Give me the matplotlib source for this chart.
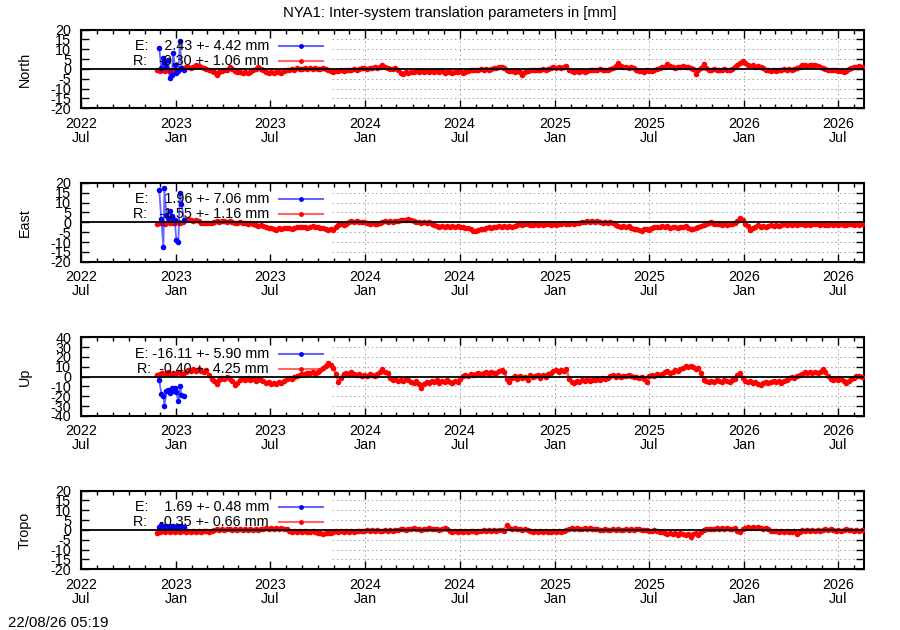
import matplotlib
matplotlib.use('Agg')
import matplotlib.pyplot as plt
import matplotlib.dates as mdates
import pandas as pd

plt.rcParams['font.family'] = ['Liberation Sans', 'DejaVu Sans']
plt.rcParams['font.size'] = 10.4

# ---------------- data ----------------
title = "NYA1: Inter-system translation parameters in [mm]"
stamp = "22/08/26 05:19"
x_start = "2022-07-01"
x_end = "2026-08-21"

# R series: one value every 5 days from red_start
red_start = "2022-11-25"
red_step = "5D"

north_r = [
    -0.5, -1.0, -0.8, -1.2, -0.6, -0.9, -1.1, -0.4, -0.7, 0.0,
    0.5, 0.8, 1.0, 0.6, 1.2, 2.0, 1.4, 0.8, 0.5, 0.2,
    -0.8, -1.2, -1.5, -3.0, -1.8, -1.0, -0.6, -0.3, 1.0, 0.2,
    -1.2, -1.8, -1.5, -2.2, -1.7, -1.9, -1.4, -0.5, 0.0, 1.0,
    0.2, -0.8, -1.8, -2.0, -1.6, -2.3, -1.8, -1.5, -2.0, -1.2,
    -0.8, -0.5, -0.2, -0.6, 0.3, -0.1, 0.2, 0.5, 0.0, 0.3,
    0.1, 0.4, -0.2, 0.2, 0.5, 0.0, -0.3, -1.0, -1.4, -0.9,
    -1.2, -0.8, -1.1, -0.6, -0.4, -0.7, -0.2, -0.5, 0.0, 0.3,
    0.5, 0.2, 0.6, 0.3, 0.8, 0.4, 1.2, 2.0, 1.0, 0.5,
    0.2, -0.2, 0.3, -0.6, -2.0, -2.4, -1.8, -2.2, -1.5, -1.8,
    -1.3, -1.6, -1.0, -1.5, -1.2, -1.8, -0.9, -1.4, -1.1, -1.6, -1.3, -1.9, -1.5,
    -1.7, -2.0, -1.5, -1.8, -1.2, -1.9, -1.6, -1.0,
    -0.5, -0.8, -0.3, -0.6, -0.2, -0.5, 0.0, -0.4, -0.1, 0.3, 0.5,
    1.0, 1.2, 0.6,
    -0.8, -1.2, -0.9, -1.4, -1.0, -1.6, -3.0, -1.5, -1.0,
    -0.6, -0.4, -0.8, -0.3, -0.6, -0.2, -0.5, 0.0,
    0.5, 0.8, 0.4, 1.0, 0.6, 1.2, 1.7,
    -0.8, -1.3, -1.6, -1.2, -1.8, -1.1, -1.5, -0.9,
    -0.5, -0.8, -0.3, -0.6, -0.2, -0.5, -0.7, -0.3, -0.1, 0.4,
    1.5, 2.8, 1.6,
    1.0, 1.2, 0.7, 1.0, 0.4,
    -0.8, -1.2, -0.9, -1.4, -0.8, -1.0, -1.3, -0.6, -0.2, 0.3,
    0.8, 1.2, 2.5, 1.4, 1.0, 0.7, 1.2, 0.9, 1.3, 0.8, 1.0, 0.5, 0.2, -2.5, -0.5, 0.4,
    2.5, 0.6, -0.3, -0.6, -0.2, -0.8, -0.4, -0.6, -0.1, -0.5, -0.3, 0.2, 0.8,
    1.8, 3.0, 4.0, 3.2, 2.0,
    1.5, 1.8, 1.2, 1.6, 1.0, 0.5,
    -0.5, -0.8, -1.0, -0.6, -1.1, -0.7, -0.5,
    -0.2, -0.4, 0.0, -0.3, 0.2, 0.6,
    1.2, 1.8, 2.0, 1.6, 2.2, 1.8, 2.0, 1.5, 1.2,
    0.3, -0.2, -0.5, -0.3, -0.8, -0.5, -1.0, -1.2, -1.7, -1.0,
    -0.2, 0.5, 1.0, 0.8, 1.5, 1.0,
]

east_r = [
    -1.0, -0.5, -0.2, -0.6, 0.0, -0.4, -0.1, -0.5, 0.2, -0.3,
    0.3, 1.0, 1.6, 1.2, 0.8, 1.4, 0.5, -0.2, -0.5, -0.1,
    -0.4, -0.2, 0.3, 0.8, 0.4, 0.9, 0.5, 0.2, 0.7, 0.3,
    -0.2, -0.5, 0.0, -0.4, -0.1, -0.6, -0.3, -0.9, -1.5, -1.8,
    -1.4, -2.0, -2.6, -3.0, -2.8, -3.4, -3.8, -3.0, -3.3, -2.7,
    -3.1, -2.8, -3.5, -3.0, -2.6, -2.2, -2.6, -2.3, -2.8, -2.4,
    -2.0, -2.5, -2.2, -2.7, -3.0, -3.5, -3.9, -3.4, -3.8, -2.2,
    -1.5, -1.0, -1.3, -0.8, 0.2, 0.6, 0.3, 0.7, 0.4, 0.0,
    0.3, -0.5, -0.8, -0.4, -0.9, -0.6, -0.2, 0.4, 0.6, 0.3,
    0.7, 0.4, 0.8, 0.5, 1.0, 1.4, 1.1, 1.8, 1.3, 0.9,
    0.4, 0.0, -0.3, 0.2, -0.4, 0.1, -0.6, -1.2, -1.8, -2.2, -1.7, -2.4, -2.0,
    -2.2, -1.8, -2.5, -2.0, -2.6, -2.2, -2.8, -3.0,
    -3.4, -4.2, -4.6, -3.8, -3.2, -3.6, -2.9,
    -2.4, -2.8, -2.2, -2.6, -2.1, -2.5, -2.0, -2.4, -1.9, -2.2, -1.7,
    -1.3, -1.0, -1.5, -1.1, -0.8, -1.2, -1.4,
    -1.0, -1.3, -0.8, -1.2, -0.6, -1.0, -1.4, -0.9, -1.2, -0.7, -1.1, -0.5,
    -0.9, -0.6, -0.3, -0.7, -0.4, -0.2,
    0.0, 0.4, 0.6, 0.3, 0.7, 0.2, 0.5, 0.1, -0.2, 0.2, -0.3, 0.0, -0.5,
    -1.2, -1.8, -2.2, -1.9, -2.5, -2.1, -2.8, -3.2,
    -3.5, -3.9, -4.3, -3.6, -3.2, -3.8, -3.0, -2.6,
    -2.2, -2.6, -2.1, -2.5, -2.0, -2.8, -2.4, -2.2, -2.7, -2.3, -2.6, -2.1, -2.9,
    -3.2, -3.6, -3.0, -2.5, -1.8,
    -1.4, -1.0, -0.4, 0.3, -0.6, -1.0, -0.7, -1.3, -0.9, -1.2, -0.8, -1.1, -0.5,
    0.8, 2.4, 1.0, -1.0, -2.0,
    -4.0, -2.8, -2.2, -1.6, -2.3, -1.8, -2.5, -1.9,
    -1.6, -2.0, -1.5, -1.9, -1.3,
    -1.0, -1.4, -0.8, -1.2, -0.9, -1.5, -1.1, -0.7, -1.2, -0.8, -1.3, -1.0,
    -0.6, -1.1, -1.4, -0.9, -1.2, -1.6, -1.1, -1.4, -0.9, -1.3, -1.0, -1.5,
    -1.2, -0.8, -1.1, -1.4, -1.0, -1.3, -0.9,
]

up_r = [
    1.7, 2.5, 4.0, 3.0, 4.5, 2.8, 3.8, 2.2, 4.2, 3.5,
    3.0, 5.0, 6.5, 5.5, 7.5, 6.0, 8.0, 6.2, 5.0, 7.0,
    2.0, -2.5, -4.0, -7.0, -3.0, -1.0, -2.5, -0.5, -2.0, -4.0,
    -8.4, -6.0, -3.5, -2.0, -3.0, -1.5, -3.5, -2.2, -4.0, -2.5,
    -3.0, -4.5, -6.0, -5.0, -7.5, -6.0, -8.0, -5.5, -6.5, -4.5,
    -2.0, -1.0, -2.5, -0.5, 0.5, 2.0, 3.0, 2.5, 4.0, 3.5,
    4.5, 3.0, 5.0, 7.0, 9.0, 11.0, 14.0, 12.0, 9.0, 3.0,
    -5.0, -1.0, 3.0, 4.0, 2.5, 4.5, 3.0, 1.5, 2.5, 0.5,
    2.0, 1.0, 2.5, 1.5, 0.8, 3.0, 4.5, 7.4, 5.0, 3.5,
    -1.0, -3.0, -2.0, -4.0, -3.0, -4.5, -2.5, -3.5, -5.0, -6.0,
    -4.5, -8.0, -11.8, -7.0, -5.0, -6.0, -4.0, -5.5, -3.5, -6.0, -4.5, -5.0, -3.0,
    -5.0, -6.0, -4.0, -5.5, -2.0,
    1.0, 2.0, 0.5, 2.5, 1.5,
    3.0, 4.0, 2.5, 3.5, 4.5, 3.0, 5.0, 4.0, 3.5, 5.5, 6.7, 5.0,
    -2.0, -5.0,
    -1.0, 0.5, -2.0, 1.0, -1.5, 0.0, -3.0, 1.5, -0.5, 0.5, 2.0, -1.0, 1.5, 0.0, 2.5,
    4.0, 5.5, 6.5, 5.0, 7.0, 6.0, 8.0,
    -2.0, -5.0, -6.0, -4.5, -5.5,
    -3.5, -4.0, -2.5, -4.5, -3.0, -3.8, -2.0, -3.5, -1.5, -2.5, -1.0,
    0.5, 1.5, 0.0, 1.2, -0.5, 1.0, 0.2, 1.8, 0.5, -0.3,
    -0.5, -1.2, 0.0, -2.0, -5.0,
    1.0, 2.0, 1.0, 2.5, 1.5,
    3.0, 4.5, 5.5, 4.0, 5.0, 6.5, 5.5, 7.5,
    9.0, 10.5, 9.5, 11.0, 10.0,
    7.5, 9.0, 4.0,
    -3.0, -4.5, -5.5, -4.0, -5.0, -3.5, -4.5, -5.0, -3.8, -4.2, -5.0, -3.5, -2.0,
    1.5, 3.4,
    -1.0, -4.0, -5.5, -4.5, -6.0, -5.0, -7.0, -8.4, -6.5, -5.0, -6.0,
    -5.0, -4.0, -5.5, -4.5, -6.0, -4.0, -3.0,
    -1.0, -0.5, -1.5, 0.5, 1.5,
    3.0, 4.5, 3.5, 5.0, 4.0, 4.5, 3.5, 5.0,
    7.4, 5.0, 1.0,
    -2.0, -3.0, -2.5, -3.5, -2.0, -4.5,
    -6.7,
    -4.0, -2.0, -1.0, 0.5, 1.0, -0.5,
]

tropo_r = [
    -1.5, -0.8, -0.4, -1.0, -0.5, -0.9, -0.3, -0.8, -0.6, -1.0,
    -0.5, -0.8, -0.4, -1.0, -0.6, -0.9, -0.5, -0.8, -0.4, -0.7,
    -0.9, -0.5, 0.0, 0.4, 0.1, 0.5, -0.1, 0.3, 0.6, 0.0,
    0.3, -0.1, 0.4, 0.0, 0.5, 0.2, 0.6, 0.1, 0.4, 0.0,
    0.3, 0.6, 0.9, 0.5, 1.0, 0.6, 0.8, 0.4, 0.9, 0.6,
    0.3, -0.4, -0.8, -0.5, -1.0, -0.6, -0.9, -0.4, -0.8, -1.1,
    -0.7, -1.0, -1.3, -1.6, -1.9, -1.4, -1.8, -1.5, -1.0, -0.6,
    -0.9, -0.5, -0.8, -0.4, -0.9, -0.6, -1.0, -0.5, -0.7, -0.4,
    -0.6, -0.2, -0.5, -0.1, -0.4, 0.0, -0.3, -0.6, -0.2, -0.4,
    0.0, -0.3, 0.2, -0.1, 0.3, 0.6, 0.2, 0.7, 0.4, 0.8,
    0.3, 0.6, 0.2, 0.7, 0.4, 0.9, 0.5, 0.3, 0.7, 0.2, 0.5, 0.8, 0.3,
    -0.4, -0.8, -0.5, -1.0, -0.6, -0.9, -0.5, -1.1, -0.7, -0.4, -0.9, -0.6, -0.3,
    -0.1, -0.4, 0.1, -0.3, 0.0, -0.5, -0.2, 0.1, -0.3,
    2.7,
    1.0, 0.4, 0.8, 0.3, 0.7, 0.2, 0.5, 0.1,
    -0.4, -0.8, -0.5, -1.0, -0.6, -0.9, -0.4, -0.8, -1.1, -0.6, -0.9, -0.5, -0.8, -0.4, -0.2,
    0.5, 0.9, 0.6, 1.0, 0.7, 0.4, 0.8, 0.5, 0.9, 0.6, 0.3, 0.5,
    0.2, 0.0, 0.4, 0.1, -0.2, 0.3, 0.0, 0.5, 0.2, -0.1, 0.3, 0.1, 0.4, 0.0, 0.3, 0.5, 0.1, -0.2, 0.0,
    -0.3, -0.6, -0.2, -0.5, -0.9,
    -1.2, -1.6, -2.0, -1.5, -2.2, -1.8, -2.5, -1.4, -2.0, -2.8, -2.2, -3.5, -2.0, -1.5, -2.4, -1.0,
    0.2, 0.6, 0.3, 0.7, 0.4, 0.8, 0.5, 0.9, 0.6, 1.1, 0.7, 0.4, 0.8,
    -0.5, -0.8,
    0.6, 1.0, 1.4, 0.9, 1.3, 0.8, 1.6, 1.1, 0.7, 1.2, 0.6,
    -0.3, -0.7, -0.4, -0.9, -0.5, -1.0, -0.6, -0.8, -1.2, -0.7, -2.0, -0.9,
    -0.2, -0.5, 0.1, -0.3, 0.2, -0.4, 0.0, -0.6, -0.2, 0.3, -0.1, 0.4,
    0.0, -0.3, 0.2, -0.5, -0.1, 0.3, -0.2, 0.1, -0.4, 0.0, -0.3, 0.1,
]

# E series: short early campaign
blue_dates = ["2022-11-29", "2022-12-03", "2022-12-07", "2022-12-09", "2022-12-13",
              "2022-12-16", "2022-12-19", "2022-12-23", "2022-12-26", "2022-12-29",
              "2023-01-01", "2023-01-05", "2023-01-08", "2023-01-11", "2023-01-16"]
north_e = [10.7, 0.3, 5.3, 2.8, 1.0, 4.5, -4.7, -3.0, 8.3, 2.0, -2.2, -1.3, 14.2, 0.3, -0.5]
east_e = [16.5, 1.7, -12.3, 17.2, 3.9, 2.2, 5.7, 3.1, 1.7, 1.4, -8.9, -9.8, 15.1, 9.1, 1.4]
up_e = [-3.4, -17.5, -19.5, -29.6, -15.0, -13.4, -16.8, -11.8, -15.0, -11.8, -16.1, -25.2, -10.0, -18.5, -19.5]
tropo_e = [1.5, 2.5, 1.8, 1.2, 2.0, 1.6, 1.9, 1.3, 2.2, 1.7, 1.4, 1.8, 1.5, 1.9, 1.6]

panel_names = ["North", "East", "Up", "Tropo"]
panel_limits = [20, 20, 40, 20]
panel_steps = [5, 5, 10, 5]
legend_e = ["E:    2.43 +- 4.42 mm", "E:    1.96 +- 7.06 mm", "E: -16.11 +- 5.90 mm", "E:    1.69 +- 0.48 mm"]
legend_r = ["R:   -0.30 +- 1.06 mm", "R:   -1.55 +- 1.16 mm", "R:  -0.40 +- 4.25 mm", "R:   -0.35 +- 0.66 mm"]
e_series = [north_e, east_e, up_e, tropo_e]
r_series = [north_r, east_r, up_r, tropo_r]

# ---------------- figure ----------------
fig = plt.figure(figsize=(9, 6.3), dpi=100)
bottoms = [0.8281, 0.5846, 0.3397, 0.0963]
blue_dt = pd.to_datetime(blue_dates)
xmin, xmax = pd.Timestamp(x_start), pd.Timestamp(x_end)
grid_from = 0.32   # the key box hides the grid left of this (axes fraction)
grid_kw = dict(color="#a0a0a0", lw=0.7, ls=(0, (1.5, 3)), zorder=1)
axes = []


def series(ax, x, y, col, lw, ms, z, **kw):
    ax.plot(x, y, color=col, lw=lw, alpha=0.6, zorder=z, solid_capstyle="butt", **kw)
    ax.plot(x, y, color=col, lw=0, marker="o", ms=ms, mew=0, zorder=z + 0.1, **kw)


for k in range(4):
    ax = fig.add_axes([0.09, bottoms[k], 0.8703, 0.125])
    axes.append(ax)
    lim, step = panel_limits[k], panel_steps[k]
    r = r_series[k]
    r_dt = pd.date_range(red_start, periods=len(r), freq=red_step)
    ax.set_xlim(xmin, xmax)
    ax.set_ylim(-lim, lim)
    yt = list(range(-lim, lim + 1, step))
    ax.set_yticks(yt)
    ax.set_yticklabels([str(v) for v in yt])
    ax.xaxis.set_major_locator(mdates.MonthLocator(bymonth=[1, 7]))
    ax.xaxis.set_minor_locator(mdates.MonthLocator())
    ax.xaxis.set_major_formatter(mdates.DateFormatter("%Y\n%b"))
    ax.tick_params(which="both", direction="in", top=True, right=True, width=1.0)
    ax.tick_params(which="major", length=6)
    ax.tick_params(which="minor", length=3)
    ax.tick_params(axis="y", pad=7)
    ax.tick_params(axis="x", pad=6)
    for s in ax.spines.values():
        s.set_linewidth(1.5)

    # partial grid (hidden under the opaque key area)
    for v in yt:
        if v not in (-lim, 0, lim):
            ax.plot([grid_from, 1], [v, v], transform=ax.get_yaxis_transform(), **grid_kw)
    xspan = mdates.date2num(xmax) - mdates.date2num(xmin)
    for d in mdates.MonthLocator(bymonth=[1, 7]).tick_values(xmin, xmax):
        frac = (d - mdates.date2num(xmin)) / xspan
        if grid_from < frac < 1:
            ax.axvline(d, **grid_kw)

    series(ax, r_dt, r, "red", 2.0, 4.0, 3)
    series(ax, blue_dt, e_series[k], "blue", 1.3, 4.0, 4)
    ax.axhline(0, color="black", lw=1.3, zorder=5)

    # key
    for yk, txt, col in [(0.79, legend_e[k], "blue"), (0.60, legend_r[k], "red")]:
        ax.text(0.240, yk, txt, transform=ax.transAxes, ha="right", va="center", zorder=7)
        ax.plot([0.2527, 0.309], [yk, yk], transform=ax.transAxes, color=col, lw=1.5,
                alpha=0.6, zorder=8, clip_on=False)
        ax.plot([0.281], [yk], transform=ax.transAxes, color=col, marker="o", ms=3.5,
                mew=0, zorder=9, clip_on=False)

    ax.set_ylabel(panel_names[k])
    ax.yaxis.set_label_coords(-0.063, 0.5)

fig.text(0.5, 1 - 13 / 630, title, ha="center", va="center", fontsize=10.7)
fig.text(8 / 900, 1 - 623 / 630, stamp, ha="left", va="center", fontsize=10.8)

fig.canvas.draw()
for ax in axes:
    for lbl in ax.get_xticklabels():
        lbl.set_linespacing(1.0)

fig.savefig("out.png", dpi=100)
